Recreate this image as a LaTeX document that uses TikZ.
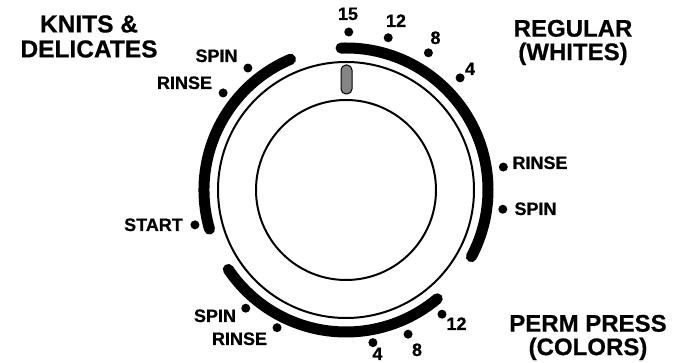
\documentclass[tikz,border=0pt]{standalone}
\usepackage{fontspec}
\setmainfont{Liberation Sans}
\newfontfamily\dialfont{Liberation Sans}[BoldFeatures={FakeBold=0.6}]
\definecolor{knobgray}{gray}{0.52}
\begin{document}
\begin{tikzpicture}[
    x=1pt, y=1pt,
    band/.style={line width=11pt, line cap=round},
    ring/.style={line width=2pt},
    dot/.style={circle, fill, inner sep=0pt, minimum size=9pt},
    lbl/.style={font=\dialfont\fontsize{18}{18}\selectfont\bfseries, inner sep=0pt, anchor=base},
    cycle/.style={font=\dialfont\fontsize{24}{23.5}\selectfont\bfseries, align=center, inner sep=0pt}
]
    \useasboundingbox (0,0) rectangle (681,363);
    \coordinate (c) at (346,173);

    % dial rings
    \draw[ring] (c) circle[radius=128];
    \draw[ring] (c) circle[radius=90];
    \node[draw, line width=1pt, fill=knobgray, rounded corners=5pt,
          minimum width=11pt, minimum height=29pt, inner sep=0pt] (pointer)
          at ([shift={(0.5,110.5)}]c) {};

    % cycle bands
    \draw[band] ([shift={(92:142)}]c) arc[start angle=92, end angle=-28, radius=142];
    \draw[band] ([shift={(113:142)}]c) arc[start angle=113, end angle=196, radius=142];
    \draw[band] ([shift={(214:142)}]c) arc[start angle=214, end angle=310, radius=142];

    % dots
    \foreach \a/\r/\n in {89/158/r15, 74.5/158/r12, 59/160/r8, 44.5/160/r4,
                          8.3/159/rrinse, -7/158/rspin,
                          128.8/156.5/kspin, 141.7/156.6/krinse, 193/155/start,
                          229.7/155/pspin, 243.4/154/prinse,
                          280/155/p4, 293.3/157/p8, 307.7/157/p12}
        \node[dot] (d\n) at ([shift={(\a:\r)}]c) {};

    % regular (whites)
    \node[lbl] (t15) at (348,343) {15};
    \node[lbl] (t12) at (396,336) {12};
    \node[lbl] (t8) at (435.5,319) {8};
    \node[lbl] (t4) at (470,288) {4};
    \node[lbl] (trrinse) at (540,194) {RINSE};
    \node[lbl] (trspin) at (535.5,148) {SPIN};

    % knits & delicates
    \node[lbl] (tkspin) at (216.5,301) {SPIN};
    \node[lbl] (tkrinse) at (184.5,274) {RINSE};
    \node[lbl] (tstart) at (153.5,132) {START};

    % perm press
    \node[lbl] (tpspin) at (215,41) {SPIN};
    \node[lbl] (tprinse) at (239.5,18) {RINSE};
    \node[lbl] (tp4) at (377.5,3) {4};
    \node[lbl] (tp8) at (417,7) {8};
    \node[lbl] (tp12) at (456.5,33) {12};

    \node[cycle, font=\dialfont\fontsize{24.5}{25}\selectfont\bfseries] (knits) at (89,326.5) {KNITS \&\\DELICATES};
    \node[cycle] (regular) at (573,320.5) {REGULAR\\(WHITES)};
    \node[cycle] (perm) at (588,25.5) {PERM PRESS\\(COLORS)};
\end{tikzpicture}
\end{document}
